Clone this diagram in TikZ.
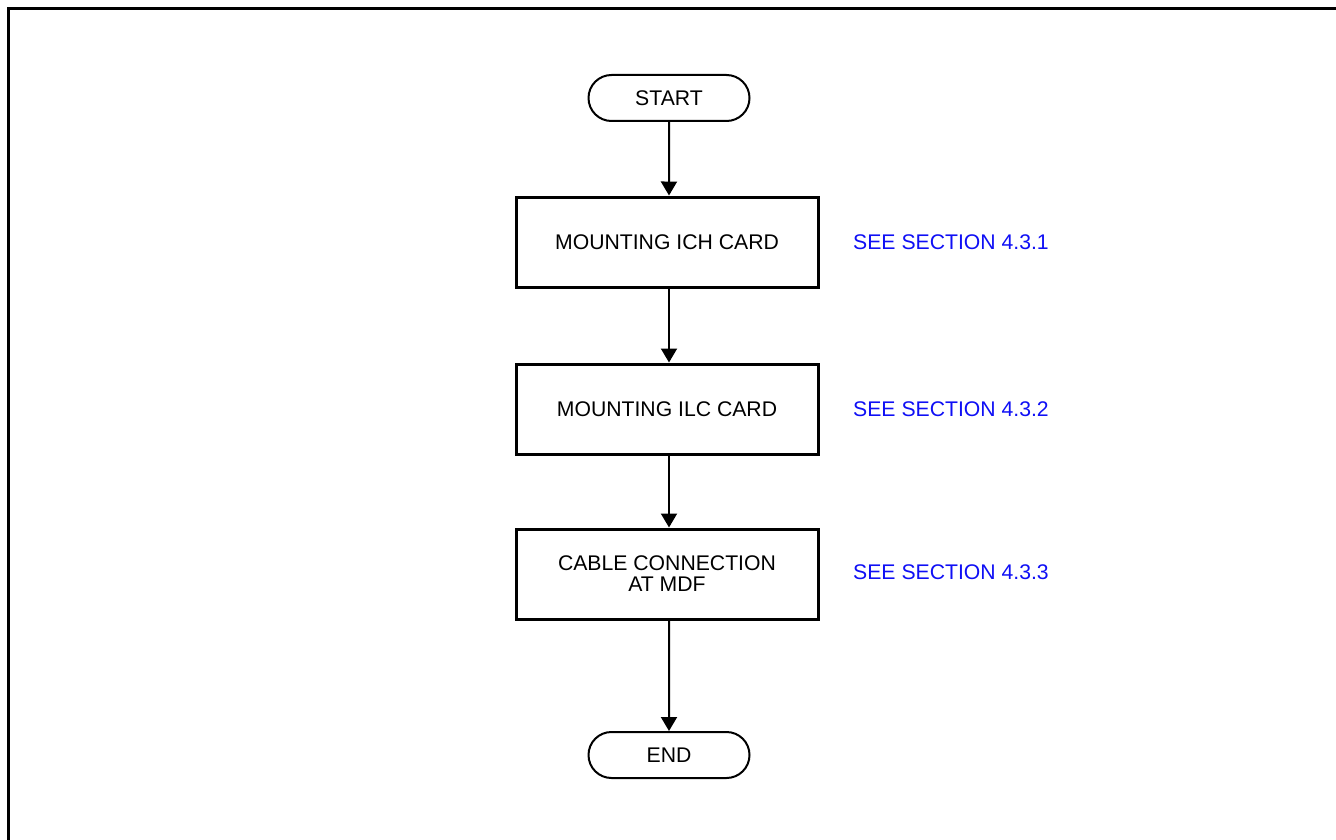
\documentclass[tikz,border=0pt]{standalone}
\usepackage{fontspec}
\setmainfont{Liberation Sans}
\usetikzlibrary{arrows.meta, shapes.misc}
\definecolor{seeblue}{RGB}{15,15,245}

\begin{document}
\begin{tikzpicture}[x=1pt, y=-1pt,
        term/.style={rounded rectangle, draw=black, line width=2pt, minimum width=161pt,
                     minimum height=46pt, inner sep=0pt, font=\fontsize{21.2}{24}\selectfont},
        proc/.style={rectangle, draw=black, line width=3pt, minimum width=302pt,
                     minimum height=90pt, align=center, font=\fontsize{21.2}{24}\selectfont},
        ref/.style={anchor=west, text=seeblue, inner sep=0pt, font=\fontsize{21.2}{24}\selectfont},
        arrow/.style={-{Triangle[length=14pt, width=16pt]}, line width=2pt}
    ]
        \useasboundingbox (0,0) rectangle (1336,840);
        \draw[line width=3pt] (8,840) -- (8,9) -- (1336,9);

        \node[term] (start) at (669,98) {START};
        \node[proc] (ich) at (667,242) {MOUNTING ICH CARD};
        \node[proc] (ilc) at (667,409) {MOUNTING ILC CARD};
        \node[proc] (mdf) at (667,574) {CABLE CONNECTION\\[-3pt]AT MDF};
        \node[term] (end) at (669,755) {END};

        \node[ref] (ref1) at (853,242) {SEE SECTION 4.3.1};
        \node[ref] (ref2) at (853,409) {SEE SECTION 4.3.2};
        \node[ref] (ref3) at (853,572) {SEE SECTION 4.3.3};

        \draw[arrow] (start) -- (start |- ich.north);
        \draw[arrow] (start |- ich.south) -- (start |- ilc.north);
        \draw[arrow] (start |- ilc.south) -- (start |- mdf.north);
        \draw[arrow] (start |- mdf.south) -- (end);
    \end{tikzpicture}
\end{document}
